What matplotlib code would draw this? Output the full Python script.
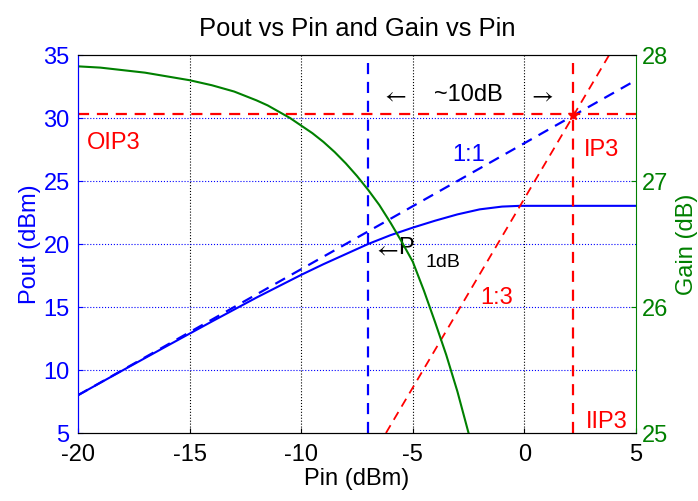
import matplotlib
matplotlib.use("Agg")
import matplotlib.pyplot as plt

plt.rcParams['font.family'] = ['Liberation Sans', 'DejaVu Sans']
plt.rcParams['axes.unicode_minus'] = False
plt.rcParams['mathtext.fontset'] = 'stix'

# readings
pin = [-20, -18, -16, -14, -12, -10, -9, -8, -7, -6, -5, -4, -3, -2, -1, -0.2, 1, 3, 5]
pout = [8.0, 9.97, 11.92, 13.85, 15.75, 17.55, 18.4, 19.2, 20.0, 20.7, 21.3, 21.85,
        22.35, 22.75, 22.97, 23.03, 23.03, 23.03, 23.03]

gain_pin = [-20, -19, -18, -17, -16, -15, -14, -13, -12, -11.5, -11, -10.5, -10, -9.5, -9,
            -8.5, -8, -7.5, -7, -6.5, -6, -5.5, -5, -4.5, -4, -3.5, -3, -2.5, -2]
gain = [27.91, 27.90, 27.88, 27.86, 27.83, 27.80, 27.76, 27.71, 27.64, 27.60, 27.55,
        27.50, 27.44, 27.38, 27.31, 27.23, 27.14, 27.04, 26.93, 26.81, 26.67, 26.52,
        26.36, 26.13, 25.88, 25.62, 25.33, 25.0, 24.65]

lin_pin = [-20, 5]
lin_1to1 = [8.0, 33.0]
ip3_pin = 2.2
oip3 = 30.3
p1db_pin = -7
pin3 = [-6.2, 3.8]
lin_1to3 = [5.0, 35.0]

fig = plt.figure(figsize=(6.98, 5.01), dpi=100)
ax = fig.add_axes([0.1117, 0.1357, 0.7994, 0.7545])
ax2 = ax.twinx()

fs = 17
blue = (0, 0, 1)
green = (0, 0.5, 0)
red = (1, 0, 0)
dash = (0, (5, 3.5))

# grid: vertical black dotted, horizontal blue dotted
for x in [-15, -10, -5, 0]:
    ax.axvline(x, color='k', ls=':', lw=0.8, zorder=0)
for y in [10, 15, 20, 25, 30]:
    ax.axhline(y, color=blue, ls=':', lw=0.8, zorder=0)

ax.plot(pin, pout, color=blue, lw=1.5)
ax.plot(lin_pin, lin_1to1, color=blue, lw=1.6, ls=dash)
ax.plot(pin3, lin_1to3, color=red, lw=1.3, ls=dash)
ax.axhline(oip3, color=red, lw=1.6, ls=dash)
ax.axvline(ip3_pin, color=red, lw=1.6, ls=dash)
ax.axvline(p1db_pin, color=blue, lw=1.6, ls=dash)
ax.plot([ip3_pin], [30.2], marker='*', color=red, ms=7)

ax2.plot(gain_pin, gain, color=green, lw=1.5)

ax.set_xlim(-20, 5)
ax.set_ylim(5, 35)
ax2.set_ylim(25, 28)
ax.set_xticks([-20, -15, -10, -5, 0, 5])
ax.set_yticks([5, 10, 15, 20, 25, 30, 35])
ax2.set_yticks([25, 26, 27, 28])

ax.tick_params(axis='x', direction='in', labelsize=fs, pad=8, colors='k')
ax.tick_params(axis='y', direction='in', labelsize=fs, colors=blue, pad=6)
ax2.tick_params(axis='y', direction='in', labelsize=fs, colors=green, pad=4)

for a in (ax, ax2):
    a.spines['top'].set_color('k')
    a.spines['bottom'].set_color('k')
ax.spines['left'].set_color(blue)
ax2.spines['left'].set_color(blue)
ax2.spines['right'].set_color(green)
ax.spines['right'].set_visible(False)

ax.set_xlabel('Pin (dBm)', fontsize=fs, labelpad=1)
ax.set_ylabel('Pout (dBm)', fontsize=fs, color=blue, labelpad=2)
ax2.set_ylabel('Gain (dB)', fontsize=fs, color=green, labelpad=6)
ax.set_title('Pout vs Pin and Gain vs Pin', fontsize=18.4, pad=14)

ax.text(-19.6, 28.0, 'OIP3', color=red, fontsize=fs, va='center', ha='left')
ax.text(2.65, 27.5, 'IP3', color=red, fontsize=fs, va='center', ha='left')
ax.text(2.74, 5.9, 'IIP3', color=red, fontsize=fs, va='center', ha='left')
ax.text(-1.97, 15.7, '1:3', color=red, fontsize=fs, va='center', ha='left')
ax.text(-3.23, 27.06, '1:1', color=blue, fontsize=fs, va='center', ha='left')

ax.text(-5.83, 31.8, r'$\leftarrow$', color='k', fontsize=fs, va='center', ha='center')
ax.text(-2.51, 31.8, '~10dB', color='k', fontsize=fs, va='center', ha='center')
ax.text(0.76, 31.8, r'$\rightarrow$', color='k', fontsize=fs, va='center', ha='center')
ax.text(-6.8, 19.6, r'$\leftarrow$', color='k', fontsize=fs, va='center', ha='left')
ax.text(-5.65, 19.7, 'P', color='k', fontsize=fs, va='center', ha='left')
ax.text(-4.45, 18.5, '1dB', color='k', fontsize=14, va='center', ha='left')

fig.savefig('out.png', dpi=100)
